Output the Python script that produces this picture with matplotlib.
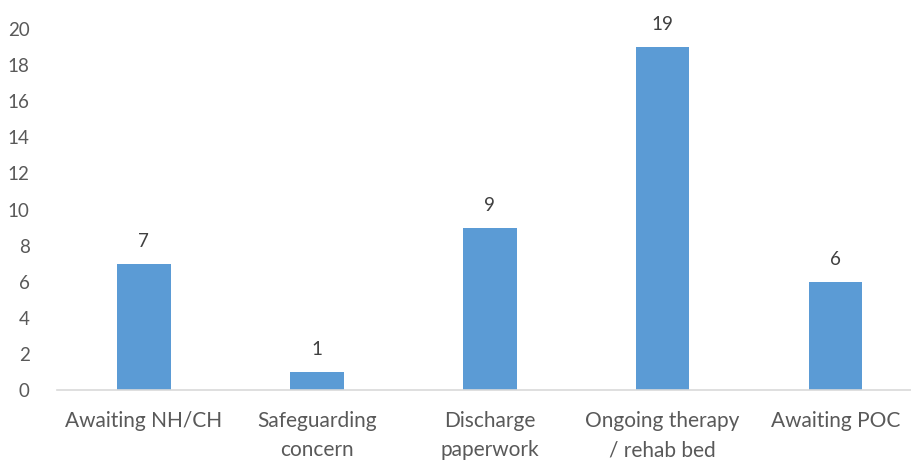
import matplotlib
matplotlib.use("Agg")
import matplotlib.pyplot as plt

categories = ["Awaiting NH/CH", "Safeguarding\nconcern", "Discharge\npaperwork",
              "Ongoing therapy\n/ rehab bed", "Awaiting POC"]
counts = [7, 1, 9, 19, 6]
yticks = list(range(0, 21, 2))

bar_color = "#5B9BD5"
text_color = "#595959"

plt.rcParams["font.family"] = ["Lato", "DejaVu Sans"]

fig = plt.figure(figsize=(9.12, 4.62), dpi=100)
ax = fig.add_axes([0.063, 0.1558, 0.948, 0.7814])

x = list(range(len(categories)))
bars = ax.bar(x, counts, width=0.31, color=bar_color, zorder=2)

# value labels above each bar
for xi, v in zip(x, counts):
    ax.annotate(str(v), (xi, v), xytext=(0, 10), textcoords="offset points",
                ha="center", va="bottom", fontsize=13.5, color="#404040")

ax.set_xlim(-0.5, len(categories) - 0.5)
ax.set_ylim(0, 20)
ax.set_yticks(yticks)
ax.set_xticks(x)
ax.set_xticklabels(categories, fontsize=15, linespacing=1.6)
ax.tick_params(axis="both", length=0, colors=text_color)
ax.tick_params(axis="y", labelsize=13.5, pad=20)
ax.tick_params(axis="x", pad=15)

for side in ["top", "right", "left"]:
    ax.spines[side].set_visible(False)
ax.spines["bottom"].set_color("#D9D9D9")
ax.spines["bottom"].set_linewidth(1.2)

fig.savefig("out.png", dpi=100)
